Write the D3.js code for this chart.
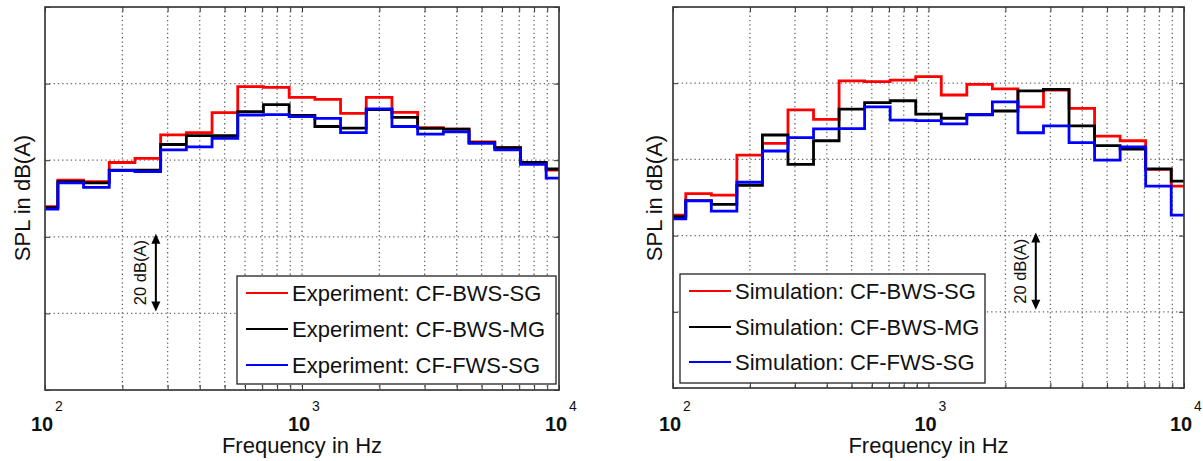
<!DOCTYPE html>
<html lang="en">
<head>
<meta charset="utf-8">
<title>SPL spectra</title>
<script src="https://d3js.org/d3.v7.min.js"></script>
<style>
body { margin: 0; background: #fff; }
text { font-family: Arial, "Liberation Sans", Helvetica, sans-serif; fill: #111; }
</style>
</head>
<body>
<svg id="chart" width="1203" height="461"></svg>
<script>
// 1/3 octave band centres in Hz
bands = [100, 125, 160, 200, 250, 315, 400, 500, 630, 800, 1000, 1250, 1600, 2000, 2500, 3150, 4000, 5000, 6300, 8000, 10000]

// relative band levels in dB(A), one grid step = 20 dB(A)
expRed   = [47.9, 54.8, 54.4, 59.4, 60.5, 66.6, 67.2, 72.4, 79.2, 79.0, 76.4, 75.9, 72.2, 76.4, 72.5, 68.5, 68.1, 64.8, 63.3, 59.4, 57.4]
expBlack = [47.6, 54.4, 54.1, 57.4, 57.4, 64.1, 66.4, 66.4, 72.7, 74.5, 71.7, 68.8, 68.4, 73.2, 71.2, 68.3, 68.1, 64.6, 63.3, 59.4, 57.7]
expBlue  = [47.2, 54.1, 52.9, 57.3, 57.0, 62.7, 63.5, 65.7, 71.8, 71.9, 71.4, 70.9, 67.2, 73.4, 68.8, 66.8, 67.4, 64.4, 62.7, 58.9, 55.3]

simRed   = [45.4, 51.0, 50.6, 61.1, 64.2, 73.0, 70.5, 80.6, 80.4, 80.8, 81.7, 76.9, 79.7, 78.5, 73.8, 78.2, 73.4, 66.1, 64.9, 57.4, 53.0]
simBlack = [45.0, 49.2, 48.2, 53.2, 66.4, 58.7, 64.9, 73.2, 74.9, 75.4, 71.9, 70.8, 71.7, 72.7, 78.0, 78.4, 68.8, 63.6, 62.7, 57.5, 54.3]
simBlue  = [44.4, 49.1, 46.4, 54.0, 62.2, 65.7, 68.0, 68.1, 73.8, 70.3, 70.2, 69.3, 71.8, 75.1, 67.0, 68.8, 64.4, 59.8, 63.3, 53.0, 45.4]

xMajor = [100, 1000, 10000]
xExp = ["2", "3", "4"]
yGrid = [0, 20, 40, 60, 80, 100]
arrowSpan = [40, 20]

namesExp = ["Experiment: CF-BWS-SG", "Experiment: CF-BWS-MG", "Experiment: CF-FWS-SG"]
namesSim = ["Simulation: CF-BWS-SG", "Simulation: CF-BWS-MG", "Simulation: CF-FWS-SG"]
colors = ["#ff0000", "#000000", "#0000ff"]

var svg = d3.select("#chart")

var panels = [
	{left: 45, right: 559, top: 7, bottom: 390, series: [expRed, expBlack, expBlue], names: namesExp,
	 legend: {x: 237, y: 276, w: 319, h: 108, rows: [293, 329, 365]}, arrowF: 270, ylabX: 30},
	{left: 673, right: 1184, top: 7, bottom: 388, series: [simRed, simBlack, simBlue], names: namesSim,
	 legend: {x: 680, y: 274, w: 305, h: 109, rows: [291, 327, 362]}, arrowF: 2630, ylabX: 662}
]

// band edges for base-10 third octaves
function edges(i) {
	var fc = 1000 * Math.pow(10, (i - 10) / 10)
	return [Math.max(100, fc / Math.pow(10, 0.05)), Math.min(10000, fc * Math.pow(10, 0.05))]
}

panels.forEach(function(p) {
	var x = d3.scaleLog().domain([100, 10000]).range([p.left, p.right])
	var y = d3.scaleLinear().domain([0, 100]).range([p.bottom, p.top])
	var g = svg.append("g")

	// dotted grid
	var xt = x.ticks().filter(function(d) { return d > 100 && d < 10000 })
	g.selectAll(".gx").data(xt).enter().append("line")
		.attr("x1", function(d) { return x(d) }).attr("x2", function(d) { return x(d) })
		.attr("y1", p.top).attr("y2", p.bottom)
		.attr("stroke", "#666").attr("stroke-width", 1.3).attr("stroke-dasharray", "1.3,3")
	g.selectAll(".gy").data(yGrid.slice(1, -1)).enter().append("line")
		.attr("x1", p.left).attr("x2", p.right)
		.attr("y1", function(d) { return y(d) }).attr("y2", function(d) { return y(d) })
		.attr("stroke", "#666").attr("stroke-width", 1.3).attr("stroke-dasharray", "1.3,3")

	// step curves
	var line = d3.line().x(function(d) { return x(d[0]) }).y(function(d) { return y(d[1]) })
	p.series.forEach(function(s, k) {
		var pts = []
		bands.forEach(function(f, i) {
			var e = edges(i)
			pts.push([e[0], s[i]], [e[1], s[i]])
		})
		g.append("path").datum(pts).attr("d", line)
			.attr("fill", "none").attr("stroke", colors[k]).attr("stroke-width", 2.8)
	})

	// axes with inner ticks, no y labels
	g.append("g").attr("transform", "translate(0," + p.bottom + ")")
		.call(d3.axisBottom(x).tickValues(x.ticks()).tickSize(-5).tickFormat(""))
	g.append("g").attr("transform", "translate(0," + p.top + ")")
		.call(d3.axisTop(x).tickValues(x.ticks()).tickSize(-5).tickFormat(""))
	g.append("g").attr("transform", "translate(" + p.left + ",0)")
		.call(d3.axisLeft(y).tickValues(yGrid).tickSize(-5).tickFormat(""))
	g.append("g").attr("transform", "translate(" + p.right + ",0)")
		.call(d3.axisRight(y).tickValues(yGrid).tickSize(-5).tickFormat(""))
	g.selectAll(".domain").attr("stroke", "none")
	g.selectAll(".tick line").attr("stroke", "#333").attr("stroke-width", 1)
	g.append("rect").attr("x", p.left).attr("y", p.top)
		.attr("width", p.right - p.left).attr("height", p.bottom - p.top)
		.attr("fill", "none").attr("stroke", "#3a3a3a").attr("stroke-width", 1.7)

	// tick labels 10^n
	xMajor.forEach(function(f, i) {
		g.append("text").attr("x", x(f) - 3).attr("y", 431)
			.attr("text-anchor", "middle").attr("font-size", 20).attr("font-weight", "bold").text("10")
		g.append("text").attr("x", x(f) + 10).attr("y", 411)
			.attr("font-size", 14).text(xExp[i])
	})

	// axis titles
	g.append("text").attr("x", (p.left + p.right) / 2).attr("y", 453)
		.attr("text-anchor", "middle").attr("font-size", 22).text("Frequency in Hz")
	g.append("text").attr("transform", "translate(" + p.ylabX + ",198) rotate(-90)")
		.attr("text-anchor", "middle").attr("font-size", 22).text("SPL in dB(A)")

	// 20 dB(A) scale arrow
	var ax = x(p.arrowF), a0 = y(arrowSpan[0]) - 3, a1 = y(arrowSpan[1]) - 2
	g.append("line").attr("x1", ax).attr("x2", ax).attr("y1", a0 + 6).attr("y2", a1 - 6)
		.attr("stroke", "#000").attr("stroke-width", 2)
	g.append("path").attr("d", "M" + ax + "," + a0 + "l-4.5,10h9z").attr("fill", "#000")
	g.append("path").attr("d", "M" + ax + "," + a1 + "l-4.5,-10h9z").attr("fill", "#000")
	g.append("text").attr("transform", "translate(" + (ax - 10) + "," + ((a0 + a1) / 2) + ") rotate(-90)")
		.attr("text-anchor", "middle").attr("font-size", 16.5).text("20 dB(A)")

	// legend
	var L = p.legend
	g.append("rect").attr("x", L.x).attr("y", L.y).attr("width", L.w).attr("height", L.h)
		.attr("fill", "#fff").attr("stroke", "#222").attr("stroke-width", 1.3)
	p.names.forEach(function(n, k) {
		g.append("line").attr("x1", L.x + 9).attr("x2", L.x + 51)
			.attr("y1", L.rows[k]).attr("y2", L.rows[k])
			.attr("stroke", colors[k]).attr("stroke-width", 2.2)
		g.append("text").attr("x", L.x + 55).attr("y", L.rows[k] + 8)
			.attr("font-size", 22).text(n)
	})
})
</script>
</body>
</html>
